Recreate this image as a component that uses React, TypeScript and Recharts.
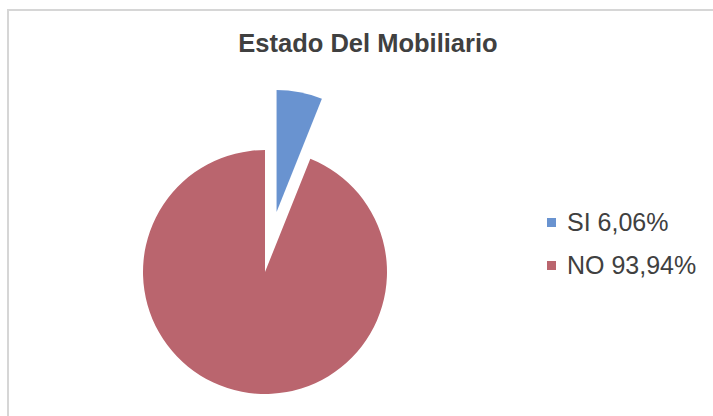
import { PieChart, Pie, Cell } from "recharts";

const categories = ["SI", "NO"];
const counts = [2, 31];
const colors = ["#6993d0", "#ba656e"];

const total = counts.reduce((a, b) => a + b, 0);
const data = categories.map((name, i) => ({
  name,
  value: counts[i],
  label: `${name} ${((counts[i] / total) * 100).toFixed(2).replace(".", ",")}%`,
}));

// exploded SI slice: push along its mid angle
const explode = 61;
const siMid = 90 - ((counts[0] / total) * 360) / 2;
const cx = 265;
const cy = 272;
const exCx = cx + explode * Math.cos((siMid * Math.PI) / 180);
const exCy = cy - explode * Math.sin((siMid * Math.PI) / 180);

const font = "Liberation Sans, Arial, sans-serif";

function LegendList() {
  return (
    <div style={{ position: "absolute", left: 547, top: 201, fontFamily: font, color: "#404040", fontSize: 25 }}>
      {data.map((d, i) => (
        <div key={d.name} style={{ display: "flex", alignItems: "center", height: 43, lineHeight: "43px" }}>
          <span style={{ width: 9, height: 9, background: colors[i], marginRight: 11, display: "inline-block" }} />
          <span>{d.label}</span>
        </div>
      ))}
    </div>
  );
}

export default function App() {
  return (
    <div style={{ position: "absolute", left: 0, top: 0, width: 713, height: 416, background: "#fff", overflow: "hidden" }}>
      <div
        style={{
          position: "absolute",
          left: 7,
          top: 9,
          width: 720,
          height: 420,
          border: "2px solid #d6d6d6",
          boxSizing: "border-box",
        }}
      />
      <div
        style={{
          position: "absolute",
          top: 29,
          left: 0,
          width: 736,
          textAlign: "center",
          fontFamily: font,
          fontWeight: "bold",
          fontSize: 25.5,
          color: "#404040",
        }}
      >
        Estado Del Mobiliario
      </div>
      <PieChart
        width={713}
        height={416}
        margin={{ top: 0, right: 0, bottom: 0, left: 0 }}
        style={{ position: "absolute", left: 0, top: 0 }}
      >
        <Pie
          data={data}
          dataKey="value"
          nameKey="name"
          cx={cx}
          cy={cy}
          outerRadius={122}
          startAngle={90}
          endAngle={-270}
          stroke="none"
          isAnimationActive={false}
        >
          {data.map((d, i) => (
            <Cell key={d.name} fill={i === 0 ? "transparent" : colors[i]} />
          ))}
        </Pie>
        <Pie
          data={data}
          dataKey="value"
          nameKey="name"
          cx={exCx}
          cy={exCy}
          outerRadius={122}
          startAngle={90}
          endAngle={-270}
          stroke="none"
          isAnimationActive={false}
        >
          {data.map((d, i) => (
            <Cell key={d.name} fill={i === 0 ? colors[i] : "transparent"} />
          ))}
        </Pie>
      </PieChart>
      <LegendList />
    </div>
  );
}
